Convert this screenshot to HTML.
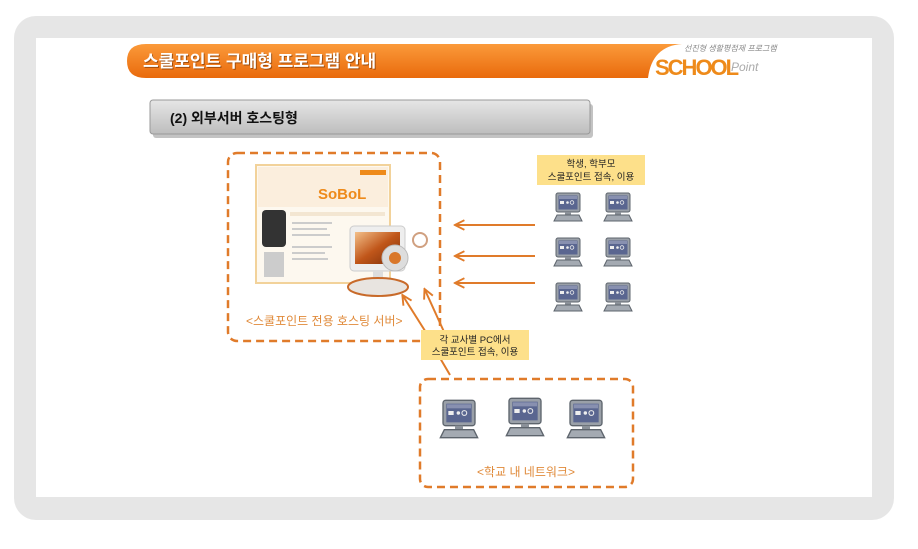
<!DOCTYPE html>
<html><head><meta charset="utf-8"><style>
html,body{margin:0;padding:0;background:#fff;}
body{width:918px;height:544px;overflow:hidden;font-family:"Liberation Sans","Noto Sans CJK KR",sans-serif;}
</style></head><body>
<svg width="918" height="544" viewBox="0 0 918 544" xmlns="http://www.w3.org/2000/svg" font-family="Liberation Sans, Noto Sans CJK KR, sans-serif">
<defs>
<linearGradient id="og" x1="0" y1="0" x2="0" y2="1"><stop offset="0" stop-color="#fb9a3a"/><stop offset="1" stop-color="#e96a0c"/></linearGradient>
<linearGradient id="gg" x1="0" y1="0" x2="0" y2="1"><stop offset="0" stop-color="#e6e6e6"/><stop offset="1" stop-color="#bdbdbd"/></linearGradient>
<linearGradient id="scr" x1="0" y1="0" x2="1" y2="1"><stop offset="0" stop-color="#f3c08a"/><stop offset="0.5" stop-color="#c0561a"/><stop offset="1" stop-color="#7a2d08"/></linearGradient>
<symbol id="pc" viewBox="0 0 30 30">
<rect x="3" y="1" width="24" height="19" rx="2" fill="#9aa0a8" stroke="#5d646c" stroke-width="1"/>
<rect x="5.5" y="3.5" width="19" height="14" fill="#5a6690"/>
<rect x="6" y="4" width="18" height="3" fill="#8890b0"/>
<rect x="7" y="9" width="4" height="3" fill="#eee"/><circle cx="14.5" cy="10.5" r="1.3" fill="#eee"/><circle cx="19" cy="10.5" r="1.8" fill="none" stroke="#eee" stroke-width="0.8"/>
<rect x="12" y="20" width="6" height="3" fill="#8b9199"/>
<path d="M4 23 H26 L29 29 H1 Z" fill="#a4aab2" stroke="#5d646c" stroke-width="1"/>
</symbol>
<marker id="ah" viewBox="0 0 10 10" refX="8" refY="5" markerWidth="6" markerHeight="6" orient="auto"><path d="M1 1 L9 5 L1 9" fill="none" stroke="#e07b2a" stroke-width="1.6"/></marker>
</defs>
<rect x="0" y="0" width="918" height="544" fill="#fff"/>
<rect x="14" y="16" width="880" height="504" rx="22" fill="#e6e6e6"/>
<rect x="36" y="38" width="836" height="459" fill="#fff"/>
<!-- title bar -->
<path d="M146 44 H682 Q652 46 648 78 H146 Q127 78 127 61 Q127 44 146 44 Z" fill="url(#og)"/>
<text x="144" y="68" font-size="17" font-weight="bold" fill="#6a2e04" opacity="0.6">스쿨포인트 구매형 프로그램 안내</text>
<text x="143" y="67" font-size="17" font-weight="bold" fill="#fff">스쿨포인트 구매형 프로그램 안내</text>
<text x="684" y="51" font-size="8" fill="#888" font-style="italic">선진형 생활평점제 프로그램</text>
<text x="655" y="75" font-size="22" font-weight="bold" fill="#ee8a1a" letter-spacing="-2">SCHOOL</text>
<text x="731" y="71" font-size="12" font-style="italic" fill="#aaa">Point</text>
<!-- gray box -->
<rect x="153" y="104" width="440" height="34" rx="3" fill="#888" opacity="0.5"/>
<rect x="150" y="100" width="440" height="34" rx="3" fill="url(#gg)" stroke="#999"/>
<text x="170" y="123" font-size="14" font-weight="bold" fill="#111">(2) 외부서버 호스팅형</text>
<!-- server box -->
<rect x="228" y="153" width="212" height="188" rx="9" fill="none" stroke="#e07b2a" stroke-width="2.5" stroke-dasharray="8,5"/>
<rect x="256" y="165" width="134" height="118" fill="#fdf8ef" stroke="#f2d29a" stroke-width="2"/>
<rect x="258" y="167" width="130" height="40" fill="#fbeedd"/>
<text x="318" y="199" font-size="15" font-weight="bold" fill="#ee8a1a">SoBoL</text>
<rect x="360" y="170" width="26" height="5" fill="#ee8a1a"/>
<rect x="262" y="210" width="24" height="37" rx="4" fill="#333"/>
<rect x="290" y="212" width="95" height="4" fill="#f3e6d2"/>
<g fill="#ccc"><rect x="292" y="222" width="40" height="2"/><rect x="292" y="228" width="35" height="2"/><rect x="292" y="234" width="38" height="2"/><rect x="292" y="246" width="40" height="2"/><rect x="292" y="252" width="33" height="2"/><rect x="292" y="258" width="36" height="2"/><rect x="264" y="252" width="20" height="25"/></g>
<!-- monitor -->
<rect x="350" y="226" width="55" height="45" rx="4" fill="#eee" stroke="#ccc"/>
<rect x="355" y="232" width="45" height="32" fill="url(#scr)"/>
<rect x="373" y="271" width="10" height="12" fill="#ddd"/>
<ellipse cx="378" cy="287" rx="30" ry="9" fill="#e8e4e0" stroke="#c86a2a" stroke-width="2"/>
<circle cx="395" cy="258" r="13" fill="#ddd" stroke="#bbb"/><circle cx="395" cy="258" r="6" fill="#d9772a"/>
<circle cx="420" cy="240" r="7" fill="none" stroke="#d0a080" stroke-width="2"/>
<text x="246" y="325" font-size="12" fill="#e08a3a">&lt;스쿨포인트  전용 호스팅 서버&gt;</text>
<!-- student label -->
<rect x="537" y="155" width="108" height="30" fill="#fde08a"/>
<text x="591" y="167" font-size="9.5" text-anchor="middle" fill="#222">학생, 학부모</text>
<text x="591" y="180" font-size="9.5" text-anchor="middle" fill="#222">스쿨포인트 접속, 이용</text>
<use href="#pc" x="553" y="192" width="30" height="30"/><use href="#pc" x="603" y="192" width="30" height="30"/>
<use href="#pc" x="553" y="237" width="30" height="30"/><use href="#pc" x="603" y="237" width="30" height="30"/>
<use href="#pc" x="553" y="282" width="30" height="30"/><use href="#pc" x="603" y="282" width="30" height="30"/>
<g stroke="#e07b2a" stroke-width="2" marker-end="url(#ah)">
<line x1="535" y1="225" x2="456" y2="225"/><line x1="535" y1="256" x2="456" y2="256"/><line x1="535" y1="283" x2="456" y2="283"/>
<line x1="427" y1="334" x2="403" y2="296"/><line x1="445" y1="334" x2="425" y2="290"/>
</g>
<line x1="440" y1="358" x2="450" y2="375" stroke="#e07b2a" stroke-width="2"/>
<rect x="421" y="330" width="108" height="30" fill="#fde08a"/>
<text x="475" y="343" font-size="9.5" text-anchor="middle" fill="#222">각 교사별 PC에서</text>
<text x="475" y="355" font-size="9.5" text-anchor="middle" fill="#222">스쿨포인트 접속, 이용</text>
<!-- network box -->
<rect x="420" y="379" width="213" height="108" rx="8" fill="none" stroke="#e07b2a" stroke-width="2.5" stroke-dasharray="8,5"/>
<use href="#pc" x="439" y="398" width="40" height="42"/><use href="#pc" x="505" y="396" width="40" height="42"/><use href="#pc" x="566" y="398" width="40" height="42"/>
<text x="526" y="476" font-size="12" text-anchor="middle" fill="#e08a3a">&lt;학교 내 네트워크&gt;</text>
</svg>
</body></html>
